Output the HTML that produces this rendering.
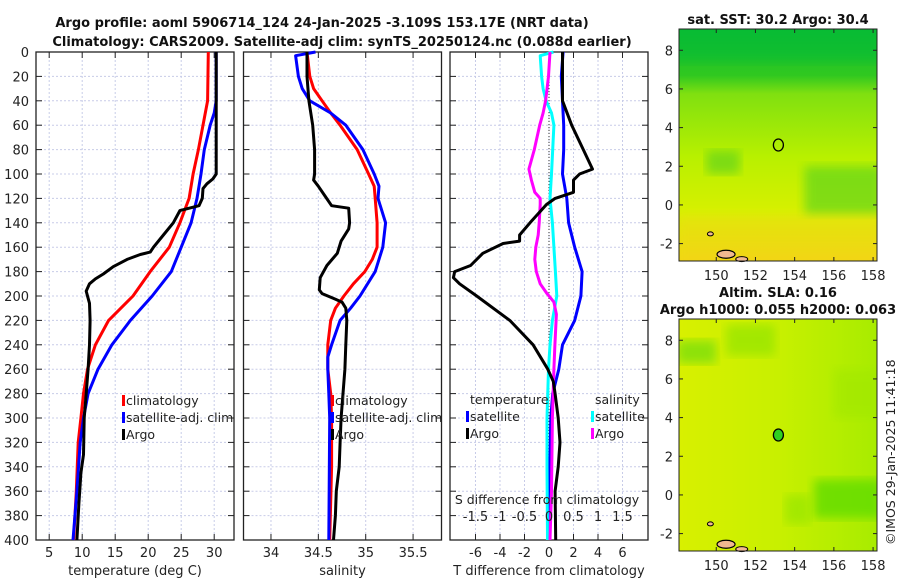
<!DOCTYPE html>
<html><head><meta charset="utf-8"><style>
body{margin:0;background:#fff;}
svg{font-family:"DejaVu Sans","Liberation Sans",sans-serif;}
</style></head><body>
<svg id="c" width="900" height="580" viewBox="0 0 900 580" xmlns="http://www.w3.org/2000/svg">
<defs>
<linearGradient id="sstg" x1="0" y1="0" x2="0" y2="1">
<stop offset="0" stop-color="#10c030"/><stop offset="0.2" stop-color="#30c820"/>
<stop offset="0.28" stop-color="#80e010"/><stop offset="0.55" stop-color="#b8f000"/>
<stop offset="0.8" stop-color="#d8f000"/><stop offset="1" stop-color="#f0d810"/>
</linearGradient>
<linearGradient id="slag" x1="0" y1="0" x2="1" y2="0">
<stop offset="0" stop-color="#d8f000"/><stop offset="0.5" stop-color="#c8f000"/><stop offset="1" stop-color="#a8ec00"/>
</linearGradient>
<filter id="blur"><feGaussianBlur stdDeviation="5"/></filter>
</defs>
<text x="322" y="27" text-anchor="middle" font-size="13" font-weight="bold" fill="#111">Argo profile: aoml 5906714_124 24-Jan-2025 -3.109S 153.17E (NRT data)</text>
<text x="342" y="46" text-anchor="middle" font-size="13" font-weight="bold" fill="#111">Climatology: CARS2009. Satellite-adj clim: synTS_20250124.nc (0.088d earlier)</text>
<g id="plots"></g>
</svg>
<script>
// depth grid
const depthTicks=[0,20,40,60,80,100,120,140,160,180,200,220,240,260,280,300,320,340,360,380,400];
const tempTicks=[5,10,15,20,25,30];
const salTicks=[34,34.5,35,35.5];
const tdiffTicks=[-6,-4,-2,0,2,4,6];
const sdiffTicks=[-1.5,-1,-0.5,0,0.5,1,1.5];
// temperature profiles [depth, value]
const tClimDepth=[0,40,60,80,100,120,140,160,180,200,220,240,260,280,300,320,360,400];
const tClimVal=[29.1,29.0,28.3,27.6,26.8,26.2,24.8,23.2,20.3,17.7,14,12,10.8,10.2,9.8,9.4,9.1,8.7];
const tSatDepth=[0,40,50,60,80,100,110,120,140,160,180,200,220,240,260,280,300,320,360,400];
const tSatVal=[30.3,30.3,30,29.4,28.5,28,27.7,27.4,26.5,25,23.5,20.6,17.3,14.5,12.4,10.9,10.2,9.7,9.2,8.6];
const tArgoDepth=[0,100,104,108,112,120,126,130,140,150,160,164,166,170,176,182,186,190,196,200,206,220,240,260,280,300,330,345,370,400];
const tArgoVal=[30.3,30.3,29.8,28.9,28.3,28.2,27.7,24.8,23.8,22.3,20.8,20.3,18.8,16.8,14.7,13.2,12,11.1,10.6,10.8,11.1,11.2,11.1,10.9,10.6,10.3,10.2,9.8,9.5,9.2];
// salinity profiles
const sClimDepth=[0,20,30,40,50,60,80,100,110,120,140,160,170,180,190,200,210,220,240,260,280,300,340,400];
const sClimVal=[34.38,34.41,34.45,34.54,34.63,34.73,34.91,35.03,35.09,35.1,35.12,35.12,35.07,34.99,34.87,34.77,34.68,34.63,34.6,34.6,34.63,34.64,34.64,34.62];
const sSatDepth=[0,3,20,30,40,50,60,80,100,110,120,140,160,180,200,210,220,240,250,260,280,300,400];
const sSatVal=[34.47,34.26,34.29,34.33,34.41,34.63,34.79,34.97,35.09,35.14,35.13,35.21,35.18,35.1,34.94,34.84,34.73,34.64,34.6,34.6,34.61,34.62,34.61];
const sArgoDepth=[0,20,40,60,80,100,105,110,118,126,128,140,145,155,165,175,185,195,198,202,205,210,220,240,260,280,300,320,340,360,380,400];
const sArgoVal=[34.38,34.38,34.4,34.44,34.46,34.46,34.45,34.5,34.57,34.64,34.82,34.83,34.82,34.74,34.7,34.59,34.52,34.51,34.54,34.66,34.75,34.79,34.8,34.79,34.78,34.76,34.74,34.73,34.72,34.69,34.68,34.66];
// difference profiles
const dTArgoDepth=[0,20,40,60,80,96,100,105,115,120,125,140,150,155,157,165,175,180,185,190,200,220,240,260,270,280,300,320,340,360,400];
const dTArgoVal=[1.1,1.1,1.1,1.85,2.8,3.55,2.5,2.0,2.0,0.5,-0.2,-1.55,-2.4,-2.4,-3.75,-5.4,-6.4,-7.7,-7.8,-7.3,-5.9,-3.2,-1.3,-0.1,0.35,0.5,0.75,0.9,0.75,0.5,0.55];
const dTSatDepth=[0,20,40,60,80,100,120,140,160,180,200,220,240,260,280,300,400];
const dTSatVal=[1.15,1.0,1.1,1.2,1.2,1.1,1.45,1.6,2.1,2.7,2.6,2.1,1.1,0.8,0.3,0.15,-0.05];
const dSSatDepth=[0,3,20,30,40,50,60,100,120,140,160,180,200,220,240,260,300,340,400];
const dSSatVal=[0.09,-0.18,-0.15,-0.12,-0.06,0.05,0.1,0.05,0.02,0.07,0.1,0.13,0.16,0.07,0.02,-0.01,-0.04,-0.04,-0.03];
const dSArgoDepth=[0,20,40,50,60,80,96,105,115,120,125,140,150,160,170,180,190,198,205,215,240,260,300,360,400];
const dSArgoVal=[0.02,-0.01,-0.07,-0.12,-0.19,-0.3,-0.41,-0.36,-0.29,-0.18,-0.18,-0.2,-0.22,-0.27,-0.29,-0.26,-0.18,-0.04,0.1,0.15,0.12,0.1,0.07,0.05,0.02];
// map ticks
const lonTicks=[150,152,154,156,158];
const latTicks=[-2,0,2,4,6,8];
const argoLon=153.17, argoLat=3.1;

const NS='http://www.w3.org/2000/svg';
const G=document.getElementById('plots');
function mk(tag,attrs,parent){const e=document.createElementNS(NS,tag);for(const k in attrs)e.setAttribute(k,attrs[k]);(parent||G).appendChild(e);return e;}
function txt(x,y,s,attrs,parent){const e=mk('text',Object.assign({x:x,y:y,'font-size':13,fill:'#222'},attrs||{}),parent);e.textContent=s;return e;}

const TOP=52,BOT=540;
const yD=d=>TOP+(d/400)*(BOT-TOP);
const P1={l:36,r:234,min:3,max:33};
const P2={l:243.5,r:441.5,min:33.71,max:35.8};
const P3={l:450,r:648,min:-8.08,max:8.08};
const xS=(p,v)=>p.l+(v-p.min)/(p.max-p.min)*(p.r-p.l);
const xSd=v=>xS(P3,v*4);

function panel(p,name,xticks,xfn,xlab,showY){
  const g=mk('g',{});
  
  
  depthTicks.forEach(d=>{
    const l=mk('line',{x1:p.l,x2:p.r,y1:yD(d),y2:yD(d),stroke:'#c8cce8','stroke-width':1,'stroke-dasharray':'2,2'},g);
    
    
    mk('line',{x1:p.l,x2:p.l+6,y1:yD(d),y2:yD(d),stroke:'#222'},g);
    mk('line',{x1:p.r-6,x2:p.r,y1:yD(d),y2:yD(d),stroke:'#222'},g);
    if(showY){const t=txt(29,yD(d)+5,String(d),{'text-anchor':'end'},g);
      
      }
  });
  xticks.forEach(v=>{
    const x=xfn(v);
    const l=mk('line',{x1:x,x2:x,y1:TOP,y2:BOT,stroke:'#c8cce8','stroke-width':1,'stroke-dasharray':'2,2'},g);
    
    
    mk('line',{x1:x,x2:x,y1:BOT-6,y2:BOT,stroke:'#222'},g);
    mk('line',{x1:x,x2:x,y1:TOP,y2:TOP+6,stroke:'#222'},g);
    const t=txt(x,BOT+17,String(v),{'text-anchor':'middle'},g);
    
    
  });
  const fr=mk('rect',{x:p.l,y:TOP,width:p.r-p.l,height:BOT-TOP,fill:'none',stroke:'#222','stroke-width':1.3},g);
  
  
  const xl=txt((p.l+p.r)/2,BOT+35,xlab,{'text-anchor':'middle'},g);
  
  
  return g;
}
function line(depths,vals,xfn,color,name,w){
  const pts=depths.map((d,i)=>xfn(vals[i]).toFixed(1)+','+yD(d).toFixed(1)).join(' ');
  const e=mk('polyline',{points:pts,fill:'none',stroke:color,'stroke-width':w||3,'stroke-linejoin':'round'});
  
  
}
function legItem(x,y,color,label,name){
  const r=mk('rect',{x:x,y:y-10,width:3,height:11,fill:color});
  
  
  const t=txt(x+4,y,label,{'font-size':12.5});
  
  
}

// Panel 1
const f1=v=>xS(P1,v);
panel(P1,'temperature-panel',tempTicks,f1,'temperature (deg C)',true);
line(tClimDepth,tClimVal,f1,'#ff0000','temp-climatology-line');
line(tSatDepth,tSatVal,f1,'#0000ff','temp-satellite-line');
line(tArgoDepth,tArgoVal,f1,'#000000','temp-argo-line');
legItem(122,405,'#ff0000','climatology','legend-climatology');
legItem(122,422,'#0000ff','satellite-adj. clim','legend-satellite');
legItem(122,439,'#000000','Argo','legend-argo');

// Panel 2
const f2=v=>xS(P2,v);
panel(P2,'salinity-panel',salTicks,f2,'salinity',false);
line(sClimDepth,sClimVal,f2,'#ff0000','sal-climatology-line');
line(sSatDepth,sSatVal,f2,'#0000ff','sal-satellite-line');
line(sArgoDepth,sArgoVal,f2,'#000000','sal-argo-line');
legItem(331,405,'#ff0000','climatology','legend-sal-climatology');
legItem(331,422,'#0000ff','satellite-adj. clim','legend-sal-satellite');
legItem(331,439,'#000000','Argo','legend-sal-argo');

// Panel 3
const f3=v=>xS(P3,v);
panel(P3,'difference-panel',tdiffTicks,f3,'T difference from climatology',false);
const zl=mk('line',{x1:f3(0),x2:f3(0),y1:TOP,y2:BOT,stroke:'#333','stroke-dasharray':'1,2'});


line(dTSatDepth,dTSatVal,f3,'#0000ff','tdiff-satellite-line');
line(dSSatDepth,dSSatVal,xSd,'#00ffff','sdiff-satellite-line');
line(dSArgoDepth,dSArgoVal,xSd,'#ff00ff','sdiff-argo-line');
line(dTArgoDepth,dTArgoVal,f3,'#000000','tdiff-argo-line');
const lt=txt(470,404,'temperature',{'font-size':12.5});


const ls=txt(595,404,'salinity',{'font-size':12.5});


legItem(466,421,'#0000ff','satellite','legend-t-satellite');
legItem(466,438,'#000000','Argo','legend-t-argo');
legItem(591,421,'#00ffff','satellite','legend-s-satellite');
legItem(591,438,'#ff00ff','Argo','legend-s-argo');
const st=txt(547,504,'S difference from climatology',{'text-anchor':'middle','font-size':12.5});


sdiffTicks.forEach(v=>{
  const t=txt(xSd(v),521,String(v),{'text-anchor':'middle'});
  
  
});

// Maps
const M={l:679,r:877};
const mx=lon=>M.l+(lon-148.1)/(158.2-148.1)*(M.r-M.l);
function map(top,name,title1,title2,fill,patches,cid){
  const bot=top+232;
  const my=lat=>top+(9.1-lat)/(9.1+2.9)*232;
  const g=mk('g',{});
  
  
  const cp=mk('clipPath',{id:cid},g);
  mk('rect',{x:M.l,y:top,width:M.r-M.l,height:232},cp);
  mk('rect',{x:M.l,y:top,width:M.r-M.l,height:232,fill:fill},g);
  const pg=mk('g',{'clip-path':'url(#'+cid+')'},g);
  patches.forEach(p=>{mk('rect',{x:mx(p[0]),y:my(p[1]),width:mx(p[2])-mx(p[0]),height:my(p[3])-my(p[1]),fill:p[4],opacity:p[5],filter:'url(#blur)'},pg);});
  // islands
  mk('ellipse',{cx:mx(150.5),cy:my(-2.55),rx:9,ry:4,fill:'#f0b890',stroke:'#000','stroke-width':1.2},g);
  mk('ellipse',{cx:mx(149.7),cy:my(-1.5),rx:3,ry:2,fill:'#f0b890',stroke:'#000','stroke-width':1},g);
  mk('ellipse',{cx:mx(151.3),cy:my(-2.8),rx:6,ry:2.5,fill:'#f0b890',stroke:'#000','stroke-width':1},g);
  mk('rect',{x:M.l,y:top,width:M.r-M.l,height:232,fill:'none',stroke:'#222','stroke-width':1},g);
  lonTicks.forEach(v=>{mk('line',{x1:mx(v),x2:mx(v),y1:bot-4,y2:bot,stroke:'#222'},g);mk('line',{x1:mx(v),x2:mx(v),y1:top,y2:top+4,stroke:'#222'},g);
    const t=txt(mx(v),bot+19,String(v),{'text-anchor':'middle'},g);
    
    });
  latTicks.forEach(v=>{mk('line',{x1:M.l,x2:M.l+4,y1:my(v),y2:my(v),stroke:'#222'},g);mk('line',{x1:M.r-4,x2:M.r,y1:my(v),y2:my(v),stroke:'#222'},g);
    const t=txt(673,my(v)+5,String(v),{'text-anchor':'end'},g);
    
    });
  if(title1){const t=txt(778,top-22,title1,{'text-anchor':'middle','font-weight':'bold','font-size':13,fill:'#111'},g);}
  const t2=txt(778,top-5,title2,{'text-anchor':'middle','font-weight':'bold','font-size':13,fill:'#111'},g);
  
  
  return {g:g,my:my};
}
const m1=map(29,'sst-map','', 'sat. SST: 30.2 Argo: 30.4','url(#sstg)',[
 [154.5,2,158.5,-0.5,'#50d020',0.6],[149.5,2.8,151.2,1.6,'#40c828',0.5],[147.5,9.5,158.5,7.4,'#00b838',0.5],[148,-0.5,158.5,-3.5,'#f8d020',0.3]],'clip1');
mk('ellipse',{cx:mx(argoLon),cy:m1.my(argoLat),rx:5,ry:6,fill:'none',stroke:'#000','stroke-width':1.3});
const m2=map(319,'sla-map','Altim. SLA: 0.16','Argo h1000: 0.055 h2000: 0.063','url(#slag)',[
 [148,8,150,6.8,'#70dc10',0.7],[150.5,8.8,153,7.2,'#88e200',0.6],[155,0.8,158.5,-1.2,'#60dc00',0.8],[153.5,0,154.8,-1.5,'#90e400',0.6],[156,6.5,158.5,4,'#a0e800',0.6]],'clip2');
const dot=mk('ellipse',{cx:mx(argoLon),cy:m2.my(argoLat),rx:5,ry:6,fill:'#30d020',stroke:'#000','stroke-width':1.3});


const cr=txt(0,0,'©IMOS 29-Jan-2025 11:41:18',{transform:'translate(895,545) rotate(-90)','font-size':12.5});


</script>
</body></html>
